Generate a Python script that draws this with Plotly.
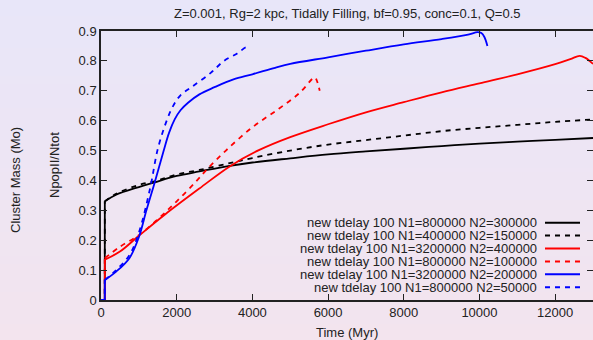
import plotly.graph_objects as go

# ---------------- data ----------------
title_text = "Z=0.001, Rg=2 kpc, Tidally Filling, bf=0.95, conc=0.1, Q=0.5"
x_label = "Time (Myr)"
y_label_inner = "NpopII/Ntot"
y_label_outer = "Cluster Mass (Mo)"

series_names = [
    "new tdelay 100 N1=800000 N2=300000",
    "new tdelay 100 N1=400000 N2=150000",
    "new tdelay 100 N1=3200000 N2=400000",
    "new tdelay 100 N1=800000 N2=100000",
    "new tdelay 100 N1=3200000 N2=200000",
    "new tdelay 100 N1=800000 N2=50000",
]

t_black_solid = [0, 100, 101, 400, 1000, 1400, 2000, 2600, 3400, 4000, 5000, 6000, 7000, 8000, 9000, 10000, 11000, 12000, 13000]
y_black_solid = [0, 0, 0.33, 0.352, 0.378, 0.393, 0.415, 0.430, 0.449, 0.460, 0.474, 0.487, 0.497, 0.506, 0.515, 0.523, 0.530, 0.536, 0.542]

t_black_dash = [0, 100, 101, 400, 1000, 1500, 2000, 2600, 3400, 4000, 5000, 6000, 7000, 8000, 9000, 10000, 11000, 12000, 13000]
y_black_dash = [0, 0, 0.33, 0.355, 0.385, 0.400, 0.420, 0.435, 0.458, 0.475, 0.500, 0.520, 0.535, 0.550, 0.565, 0.576, 0.586, 0.596, 0.604]

t_red_solid = [0, 100, 101, 500, 1000, 1700, 2600, 3400, 4200, 5000, 6000, 7000, 8000, 9000, 10000, 11000, 12000, 12400, 12650, 12800, 13000]
y_red_solid = [0, 0, 0.135, 0.162, 0.215, 0.287, 0.373, 0.447, 0.503, 0.545, 0.588, 0.628, 0.662, 0.695, 0.725, 0.755, 0.789, 0.806, 0.817, 0.810, 0.790]

t_red_dash = [0, 100, 101, 500, 1000, 1500, 2000, 2500, 2800, 3300, 4000, 4700, 5250, 5650, 5700, 5780]
y_red_dash = [0, 0, 0.14, 0.178, 0.217, 0.270, 0.330, 0.395, 0.437, 0.500, 0.578, 0.640, 0.693, 0.745, 0.735, 0.700]

t_blue_solid = [0, 100, 101, 400, 750, 1000, 1200, 1400, 1650, 1800, 1950, 2100, 2300, 2600, 3000, 3500, 4000, 4600, 5000, 6000, 7000, 8000, 9000, 9700, 9950, 10050, 10130, 10210]
y_blue_solid = [0, 0, 0.067, 0.095, 0.140, 0.210, 0.300, 0.385, 0.497, 0.560, 0.605, 0.635, 0.660, 0.688, 0.712, 0.738, 0.755, 0.777, 0.790, 0.812, 0.834, 0.855, 0.873, 0.888, 0.896, 0.893, 0.880, 0.850]

t_blue_dash = [0, 100, 101, 400, 750, 1000, 1300, 1500, 1750, 1900, 2100, 2400, 2900, 3250, 3600, 3840, 3870]
y_blue_dash = [0, 0, 0.067, 0.100, 0.150, 0.225, 0.375, 0.505, 0.605, 0.648, 0.685, 0.713, 0.760, 0.800, 0.825, 0.845, 0.835]

x_ticks = [0, 2000, 4000, 6000, 8000, 10000, 12000]
y_ticks = [0, 0.1, 0.2, 0.3, 0.4, 0.5, 0.6, 0.7, 0.8, 0.9]

# ---------------- styling ----------------
W, H = 593, 340
ML, MR, MT, MB = 101, 0, 31, 40
FONT = "Liberation Sans, Arial, Helvetica, sans-serif"
TXT = "#222222"
AX = "#222222"
DASH = "5px,5px"
LW = 1.8
STEP_END = 3  # first points: flat start + jump at tdelay (drawn straight)

styles = [
    ("#000000", "solid"),
    ("#000000", DASH),
    ("#ff0000", "solid"),
    ("#ff0000", DASH),
    ("#0000ff", "solid"),
    ("#0000ff", DASH),
]
xs = [t_black_solid, t_black_dash, t_red_solid, t_red_dash, t_blue_solid, t_blue_dash]
ys = [y_black_solid, y_black_dash, y_red_solid, y_red_dash, y_blue_solid, y_blue_dash]

fig = go.Figure()
for name, x, y, (col, dash) in zip(series_names, xs, ys, styles):
    # straight start (flat, then the jump at t = tdelay)
    fig.add_trace(go.Scatter(x=x[:STEP_END], y=y[:STEP_END], mode="lines", name=name,
                             line=dict(color=col, width=LW, dash=dash, shape="linear"),
                             showlegend=False, hoverinfo="skip"))
    # smooth evolution afterwards
    fig.add_trace(go.Scatter(x=x[STEP_END - 1:], y=y[STEP_END - 1:], mode="lines", name=name,
                             line=dict(color=col, width=LW, dash=dash, shape="spline", smoothing=1.0),
                             showlegend=False, hoverinfo="skip"))

# helper trace so the right-hand (tick-only) axis is drawn
fig.add_trace(go.Scatter(x=[None], y=[None], yaxis="y2", mode="lines",
                         showlegend=False, hoverinfo="skip"))

# ---------------- background gradient ----------------
ph = H - MT - MB
pw = W - ML - MR
def py2paper(p):
    return (H - MB - p) / ph
def px2paper(p):
    return (p - ML) / pw

top = (232, 230, 249)
bot = (243, 228, 238)
shapes = []
step = 4
for p in range(0, H, step):
    f = (p + step / 2) / H
    c = tuple(round(top[i] + (bot[i] - top[i]) * f) for i in range(3))
    shapes.append(dict(type="rect", xref="paper", yref="paper",
                       x0=px2paper(-2), x1=px2paper(W + 2),
                       y0=py2paper(p + step + 0.5), y1=py2paper(p),
                       fillcolor="rgb(%d,%d,%d)" % c, line=dict(width=0),
                       layer="below"))

# ---------------- gnuplot-style legend (text left of sample) ----------------
annotations = []
row0 = 222.7
drow = 12.9
for i, (name, (col, dash)) in enumerate(zip(series_names, styles)):
    yc = py2paper(row0 + i * drow)
    annotations.append(dict(text=name, xref="paper", yref="paper",
                            x=px2paper(539), y=yc, xanchor="right", yanchor="middle",
                            showarrow=False, font=dict(family=FONT, size=13, color=TXT)))
    shapes.append(dict(type="line", xref="paper", yref="paper",
                       x0=px2paper(545), x1=px2paper(580), y0=yc, y1=yc,
                       line=dict(color=col, width=2, dash=dash), layer="above"))

# axis titles
annotations.append(dict(text=x_label, xref="paper", yref="paper", x=0.5,
                        y=py2paper(332), xanchor="center", yanchor="middle",
                        showarrow=False, font=dict(family=FONT, size=13, color=TXT)))
annotations.append(dict(text=y_label_inner, xref="paper", yref="paper",
                        x=px2paper(54), y=py2paper(165), xanchor="center", yanchor="middle",
                        textangle=-90, showarrow=False,
                        font=dict(family=FONT, size=13, color=TXT)))
annotations.append(dict(text=y_label_outer, xref="paper", yref="paper",
                        x=px2paper(15), y=py2paper(180), xanchor="center", yanchor="middle",
                        textangle=-90, showarrow=False,
                        font=dict(family=FONT, size=13, color=TXT)))
# title
annotations.append(dict(text=title_text, xref="paper", yref="paper", x=0.5,
                        y=py2paper(13), xanchor="center", yanchor="middle",
                        showarrow=False, font=dict(family=FONT, size=13, color=TXT)))

fig.update_layout(
    width=W, height=H,
    margin=dict(l=ML, r=MR, t=MT, b=MB, pad=0),
    paper_bgcolor="rgba(0,0,0,0)",
    plot_bgcolor="rgba(0,0,0,0)",
    showlegend=False,
    shapes=shapes,
    annotations=annotations,
    xaxis=dict(range=[0, 13000], tickvals=x_ticks, tickformat="d",
               ticks="inside", ticklen=6, tickwidth=1.2, tickcolor=AX,
               showline=True, linecolor=AX, linewidth=1.5, mirror="ticks",
               showgrid=False, zeroline=False,
               tickfont=dict(family=FONT, size=13, color=TXT)),
    yaxis=dict(range=[0, 0.9], tickvals=y_ticks,
               ticks="inside", ticklen=6, tickwidth=1.2, tickcolor=AX,
               showline=True, linecolor=AX, linewidth=1.5, mirror=False,
               showgrid=False, zeroline=False,
               tickfont=dict(family=FONT, size=13, color=TXT)),
    yaxis2=dict(range=[0, 0.9], tickvals=y_ticks, overlaying="y", side="right",
                ticks="inside", ticklen=6, tickwidth=1.2, tickcolor=AX,
                showticklabels=False, showline=False, showgrid=False, zeroline=False),
)

fig.write_html("out.html")
